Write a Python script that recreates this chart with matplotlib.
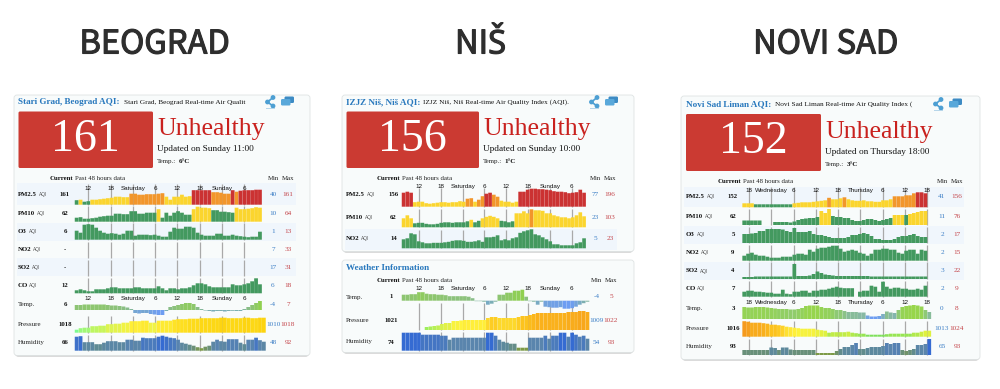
import numpy as np
import matplotlib
matplotlib.use("Agg")
import matplotlib.pyplot as plt
import matplotlib.patheffects as pe
from matplotlib.patches import FancyBboxPatch, Circle, Rectangle
from matplotlib.colors import LinearSegmentedColormap, Normalize

CITIES = ["BEOGRAD", "NIŠ", "NOVI SAD"]

# ---- Beograd readings (bar heights) ----
BG_PM25 = [4.5,5,3,3.5,5,5,5.5,6,6.5,7,8,8,7.5,7.5,11,11,10,10,10.5,10.5,10.5,11,11.5,8,5,8,8,10,8,8.5,14.5,14.5,14.5,14.5,14.5,12.5,12.5,12,11,11,14.5,13,14,14.5,14.5,14.5,15,15]
BG_PM25_C = "gygg"+"y"*10+"o"*9+"y"*7+"r"*5+"o"*5+"r"+"o"+"r"*6
BG_PM10 = [4,4.5,3,3,3.5,4,5,5.5,6,6,8,8,7.5,7.5,10.5,10.5,8,8,9,9,9,12.5,4,9,6,9,10.5,9,7,7,12.5,15,14,14,13.5,11.5,11.5,10,10,9.5,9,14,12.5,12.5,13,13.5,14.5,14]
BG_PM10_C = "g"*21+"y"+"g"*8+"y"*5+"g"*6+"y"*7
BG_O3 = [9,7,15,15.5,15,12,9,7,6,6.5,6,5,6,9,9,4,5,5,5,4.5,5,4,3,3,8,12,11,11,13,13,12,7,5,4,4,4,6,6,4,4,5,4,3.5,3,2.5,3,3,8]
BG_CO = [3,4,3,2,2,4,4,4,5,6,6,5,5,5,5,6,6,5,5,5,5,7,5,3,5,5,4,5,5,6,8,10,10,9,7,6,6,6,6,6,9,8,8,9,10,12,15,9]
BG_TEMP = [5,5,5.5,5.5,5.5,5.5,5.5,5.5,5,4.5,4.5,4,3.5,2.5,1,-3,-3.5,-3,-3,-4,-4.5,-5,-5,-1,3,4,5,6,7,7,6,3,1,-0.5,-1,-1.5,-1,-1,-1.5,-1,-0.8,-1,-1,1,3,5,7,9]
BG_PRES = [3,4.5,5,5,6.5,6.5,7,7,8.5,8.5,9,9,10,10,11.5,11.5,11.5,12,12,10,10,12,12,12,12,13,13.5,13.5,13.5,14,14,14,14.5,14.5,14.5,14.5,14.5,15,15,14.5,14.5,14.5,14.5,15,15,14.5,14.5,15,15]
BG_HUM = [14,14.5,8.5,8.5,8.5,6.5,6.5,8,9.5,9.5,9.5,8.5,8.5,11,11,10,10,13,12.5,12.5,12.5,14,15,14,13,12.5,11,8,7,6,5,3.5,2.5,4,5,9,11,9.5,9,11.5,11.5,11.5,8,6.5,11,11,13,10.5,9]

# ---- Niš readings ----
NI_PM25 = [14,15,14,4.5,5,5,3.5,3,3.5,4,4.5,4.5,4,4.5,4.5,5.5,5,8,8.5,5,7,10.5,13,14,12,10,6,5,5,4,5,15,15,17,18,18,17.5,17.5,17,16.5,15.5,15,15,14.5,13.5,14,14.5,17,14]
NI_PM25_C = "rrr"+"y"*14+"oo"+"y"+"oo"+"rr"+"oo"+"y"*5+"r"*18
NI_PM10 = [9,12,9,4,4.5,4.5,3.5,3,3,3.5,4.5,5,5,4.5,5,5,5,6,7.5,5,6.5,9,10.5,11.5,10.5,9,6.5,6,5,6,14,14,16,14,18,17,17,16.5,14,14,12,11,10,10,9,10,12,15,11]
NI_PM10_C = "y"*3+"g"*15+"y"+"gg"+"y"*5+"g"*4+"y"*4+"o"+"y"*14
NI_NO2 = [9,10,15,14,7,6,5,5,5.5,5.5,5.5,6,6.5,7.5,8,8,7.5,6.5,6.5,7,8,6.5,11,11,11.5,13,8,9,8,10,11,15.5,17,18,19,14,13,11,9,7,4,4,3,3,3,3,5,6,10]
NI_TEMP = [6,6,6.5,6.5,8.5,8.5,7,6.5,6.5,6,6,5.5,4.5,4.5,4.5,4.5,4.5,4,2.5,-0.5,-0.5,-1,-4,-3,-1,6,6,8,8,10,10,11,4,-0.5,-1,-4,-1,-6,-6.5,-7,-7,-6.5,-8,-8,-7.5,-6,-4,-2.5,-1]
NI_PRES = [0,0,0,0,0,0,3,3.5,4,4.5,6,7,7,9,9,9.5,10,10,10,10,10,10,12,13,13,12,12,12,12,12,13,14,14,15,16,17,17,17,17,17,17,17,17,18,18,18,19,19,18]
NI_HUM = [18,18,18,18,18,16,16,16,16,16,15,15,11,13,13,13,13,13,13,13,13,13,18,18,15,11,9,8,7,7,3,3,3,13,13,13,13,15,12,15,15,18,18,14,18,16,14,15,12]

# ---- Novi Sad readings ----
NS_PM25 = [4,4,4,3,3,3,3,3,3,3,3,3,3,4,4.5,5,5,5,5.5,6,6.5,7,9.5,8,8,9,10,8,7,6.5,6.5,7,6,6,5.5,5.5,7,7,8,11,11,11,12,12,14,15,15,14]
NS_PM25_C = "yyy"+"g"*10+"y"*9+"o"+"y"*3+"o"+"y"*12+"o"*6+"r"*3
NS_PM10 = [4.5,4.5,4.5,4.5,4.5,0,0,0,3,3,3,3,2.5,3.5,5,6,6.5,7,7,8,14,12,16,9,8,8,7,7,5,4,4,5,6,6,5,4,5,6,7,10,10,10,10,11,12,13,14,14]
NS_PM10_C = "g"*20+"yyy"+"g"*16+"yyy"+"g"+"y"*5
NS_O3 = [9,9,9.5,10,12,12,14,14,14,14,13.5,12,11,15,11,11,11,12,9,8,8,7,6,5,5,5,5,6,8,8,9,10,9,7,4,4,3,3,3,4,6,7,7,8,9,7,6,6]
NS_NO2 = [5,7,8,6,5,5,4,3,3,3,4,4,4,6,7,7,6,11,9,12,13,13,14,15,15,12,9,10,11,10,8,7,5,7,11,11,12,12,11,11,8,7,10,11,11,7,11,10]
NS_SO2 = [2,2,2,2.5,2.5,2.5,2.5,2.5,2.5,2.5,2.5,2.5,2.5,15,3,3,3,3.5,5,7.5,6,4.5,4,3.5,3,3,3,3,3,3,3,3,3,2.5,2.5,2.5,2.5,2.5,2.5,2.5,2.5,2.5,2.5,2.5,2.5,2.5,2.5,2.5]
NS_CO = [5,6,6,5,5,4.5,4,4,3,3,7,3,2.5,5,5,6,6,4,6,6,7,7,8,9,10,9,8.5,8.5,8.5,0,5,6,6,11,10,5,15,10,8,9,9,8,8,7,7,8,7,11]
NS_TEMP = [12,11.5,11.5,12,12,12,11.5,11,10.5,10,10,10,9.5,9.5,10,11,13,13.5,13.5,13.5,12,11,11,10,9,9,8,7,7,7,6.5,6.5,3.5,2.5,2.5,3,5,7.5,6.5,6,9,12,13,13.5,14,13.5,12.5,9,7]
NS_PRES = [15.5,15,14,14,14,13.5,13,12,12,11.5,11,10,9.5,9,8.5,8,8,8,8,7,6.5,6,4,4.5,4.5,4.5,4.5,5,4,3.5,3,3,2,2,2,2,2,2.5,3,3,3,3,3,3,4,4,5,6,6]
NS_HUM = [5,5,5,5,5,5,5,7.5,7,5,7.5,7.5,5.5,5,5,5,5,5,5,2,2,2,2,2,4,6,8,8,10,12,6,6,7,8,8,8,9,12,11,12,12,5,4,5,6,10,10,11,16]

BG_TICKS = ["12","18","Saturday","6","12","18","Sunday","6"]
NS_TICKS = ["18","Wednesday","6","12","18","Thursday","6","12","18"]

BAR_COL = {"g":"#43995f","y":"#fbd52e","o":"#f2962b","r":"#cb3232"}
PRES_A = ["#7dfb90","#c8f55a","#fff23c","#fdd410"]
PRES_B = ["#55ee70","#c8f050","#fff33c","#fcc01c","#f8a71c"]
PRES_C = ["#7ee05a","#d8f040","#fff33c","#fcc01c","#f59a1e"]
HUM_CM = ["#7d9a46","#5e8a98","#5a85ad","#356bd2"]
TEMP_A = ["#6d9df2","#7fb2a6","#8cc27a","#90d050"]
TEMP_C = ["#6d9df2","#86b8a6","#92d060","#98d64a"]

SERIF = "Liberation Serif"
SANS = "Liberation Sans"
BLUE = "#2878bd"
RED_T = "#c9211e"

fig = plt.figure(figsize=(10, 3.89), dpi=100)
ax = fig.add_axes([0, 0, 1, 1])
ax.set_xlim(0, 1000)
ax.set_ylim(389, 0)
ax.axis("off")


def T(x, y, s, size=5, c="#111111", ha="left", w="normal", fam=SERIF):
    return ax.text(x, y, s, fontsize=size, color=c, ha=ha, va="center", fontweight=w, family=fam, zorder=6)


def panel(x0, y0, x1, y1):
    ax.add_patch(FancyBboxPatch((x0 + 1, y0 + 1.5), x1 - x0 - 2, y1 - y0 - 1,
                                boxstyle="round,pad=0,rounding_size=3", fc="#b9b9b9", ec="none", zorder=1))
    ax.add_patch(FancyBboxPatch((x0, y0), x1 - x0, y1 - y0 - 0.5,
                                boxstyle="round,pad=0,rounding_size=3", fc="#f8fbfb", ec="#dfe3e3", lw=0.6, zorder=1.1))


def icons(x, y):
    c = "#4d9fd3"
    pts = [(x + 7, y), (x + 1.5, y + 4.5), (x + 7, y + 8.5)]
    ax.plot(*zip(*pts), color=c, lw=1.2, zorder=5)
    for p in pts:
        ax.add_patch(Circle(p, 1.7, color=c, zorder=5))
    ax.plot([x, x + 8], [y + 10.5, y + 10.5], color="#b5d5ea", lw=0.7, zorder=5)
    for dx, dy, col in ((18.5, -1, "#3d8bc4"), (15, 1.5, "#59a8da")):
        ax.add_patch(FancyBboxPatch((x + dx, y + dy), 9.5, 6.5, boxstyle="round,pad=0,rounding_size=1.3",
                                    fc=col, ec="none", zorder=5))


def header(px, title, title_w, sub, aqi, upd, temp, box, base_y, past_x, minx, maxx, info_x):
    T(px, base_y, title, 6.55, BLUE, w="bold")
    T(px + title_w, base_y, sub, 5.2, "#111111")
    x0, x1, y0, y1 = box
    ax.add_patch(FancyBboxPatch((x0, y0), x1 - x0, y1 - y0, boxstyle="round,pad=0,rounding_size=1.5",
                                fc="#cb3a32", ec="none", zorder=2))
    T((x0 + x1) / 2, (y0 + y1) / 2 - 0.5, aqi, 33, "white", ha="center")
    T(info_x, y0 + 18, "Unhealthy", 18.5, RED_T)
    T(info_x, y0 + 37.5, upd, 6.7)
    T(info_x, y0 + 50, "Temp.:", 5, "#222222")
    T(info_x + 21.5, y0 + 50, temp, 5, "#111111", w="bold")
    head_y = y0 + 67
    T(past_x - 1.5, head_y, "Current", 4.9, ha="right", w="bold")
    T(past_x, head_y, "Past 48 hours data", 4.9, "#222222")
    T(minx, head_y, "Min", 4.9, "#222222", ha="center")
    T(maxx, head_y, "Max", 4.9, "#222222", ha="center")


def bar_colors(vals, codes=None, stops=None):
    if codes is not None:
        return [BAR_COL[k] for k in codes]
    cm = LinearSegmentedColormap.from_list("s", stops)
    a = np.asarray(vals, float)
    return [cm(v) for v in Normalize(a.min(), a.max())(a)]


AQI_OFF = {"PM2.5": 20.5, "PM10": 19, "O3": 10.5, "NO2": 15, "SO2": 14, "CO": 11}


def row(px, label, cur, lo, hi, ly, base, xb, pitch, vals, xt, cols, curx, minx, maxx, top=None, band=None):
    if band:
        ax.add_patch(Rectangle((band[0], ly - band[2]), band[1] - band[0], band[3], fc="#f0f6fc", ec="none", zorder=1.5))
    if label in AQI_OFF:
        T(px, ly, label, 4.9, w="bold")
        T(px + AQI_OFF[label], ly, "AQI", 3.5, "#555555", fam=SANS)
    else:
        T(px, ly, label, 5, "#222222")
    T(curx, ly, cur, 4.9, ha="center", w="bold")
    T(minx, ly, lo, 5.2, "#3d7fc6", ha="center")
    T(maxx, ly, hi, 5.2, "#c4454a", ha="center")
    if top is not None:
        ax.vlines(xt, top, base, color="#a9a9a9", lw=0.9, zorder=2)
    if vals is not None:
        xs = xb + pitch * (np.arange(len(vals)) + 0.5)
        bars = ax.bar(xs, -np.asarray(vals, float), bottom=base, width=pitch * 0.97, color=cols, zorder=3)
        for b in bars:
            b.set_snap(False)


def ticks(xt, labels, y):
    for x, s in zip(xt, labels):
        T(x, y, s, 4.5, "#111111", ha="center", fam=SANS)


# Headings
HEAD_FONT = ["Noto Sans CJK KR", "Noto Sans"]
for hx, name in zip((154.5, 480.5, 825.5), CITIES):
    h = T(hx, 44.5, name, 23.5, "#2e2e2e", ha="center", fam=HEAD_FONT)
    h.set_path_effects([pe.withStroke(linewidth=0.8, foreground="#2e2e2e")])

# ---------- Beograd ----------
panel(14, 95, 310, 356)
icons(266, 97.5)
header(18, "Stari Grad, Beograd AQI:", 106, "Stari Grad, Beograd Real-time Air Qualit", "161",
       "Updated on Sunday 11:00", "6°C", (18.5, 153, 111.5, 168), 102, 75, 273, 288, 157)
xt = np.array([88.3, 110.7, 132.7, 155, 177.3, 199.7, 222, 244.3])
xb, p = 74.7, 3.9
band = (17, 296, 11, 22)
k = dict(xb=xb, pitch=p, xt=xt, curx=65, minx=273, maxx=288)
row(18, "PM2.5", "161", "40", "161", 194, 204.7, vals=BG_PM25, cols=bar_colors(BG_PM25, BG_PM25_C), top=184, band=band, **k)
row(18, "PM10", "62", "10", "64", 213.7, 221.7, vals=BG_PM10, cols=bar_colors(BG_PM10, BG_PM10_C), top=206, **k)
row(18, "O3", "6", "1", "13", 231.7, 239.7, vals=BG_O3, cols=bar_colors(BG_O3, "g" * 48), top=223, band=(17, 296, 9, 18), **k)
row(18, "NO2", "-", "7", "33", 249.3, 258, vals=None, cols=None, top=242, **k)
row(18, "SO2", "-", "17", "31", 267.3, 276, vals=None, cols=None, top=260, band=(17, 296, 9, 18), **k)
row(18, "CO", "12", "6", "18", 285.3, 293.3, vals=BG_CO, cols=bar_colors(BG_CO, "g" * 48), top=278, **k)
row(18, "Temp.", "6", "-4", "7", 304.7, 310, vals=BG_TEMP, cols=bar_colors(BG_TEMP, stops=TEMP_A), **k)
row(18, "Pressure", "1018", "1010", "1018", 324.7, 332.7, vals=BG_PRES, cols=bar_colors(BG_PRES, stops=PRES_A), top=316, **k)
row(18, "Humidity", "66", "48", "92", 342.7, 350.7, vals=BG_HUM, cols=bar_colors(BG_HUM, stops=HUM_CM), top=335, **k)
ticks(xt, BG_TICKS, 188)
ticks(xt, BG_TICKS, 298.5)

# ---------- Niš ----------
panel(342, 95, 634, 252)
icons(590, 97.5)
header(346, "IZJZ Niš, Niš AQI:", 77, "IZJZ Niš, Niš Real-time Air Quality Index (AQI).", "156",
       "Updated on Sunday 10:00", "1°C", (346.5, 479, 111.5, 168), 102, 402, 595, 610, 483)
xt2 = np.array([418.7, 440.7, 462.7, 484.3, 506.3, 528, 550, 571.7])
k = dict(xb=401.7, pitch=3.76, xt=xt2, curx=393.5, minx=595, maxx=610)
row(346, "PM2.5", "156", "77", "196", 194.5, 206.7, vals=NI_PM25, cols=bar_colors(NI_PM25, NI_PM25_C), top=188, **k)
row(346, "PM10", "62", "23", "103", 217.5, 227.3, vals=NI_PM10, cols=bar_colors(NI_PM10, NI_PM10_C), top=209, **k)
row(346, "NO2", "14", "5", "23", 238.5, 248.3, vals=NI_NO2, cols=bar_colors(NI_NO2, "g" * 49), top=230, band=(345, 617, 10, 21), **k)
ticks(xt2, BG_TICKS, 186.3)

panel(342, 260, 634, 353)
T(346, 268, "Weather Information", 6.55, BLUE, w="bold")
T(400.5, 280, "Current", 4.9, ha="right", w="bold")
T(402, 280, "Past 48 hours data", 4.9, "#222222")
T(596.7, 280, "Min", 4.9, "#222222", ha="center")
T(611, 280, "Max", 4.9, "#222222", ha="center")
k = dict(xb=401.7, pitch=3.83, xt=xt2, curx=391, minx=596.5, maxx=611)
row(346, "Temp.", "1", "-4", "5", 297, 300.7, vals=NI_TEMP, cols=bar_colors(NI_TEMP, stops=TEMP_A), **k)
row(346, "Pressure", "1021", "1009", "1022", 320, 330, vals=NI_PRES, cols=bar_colors(NI_PRES, stops=PRES_B), top=303, **k)
row(346, "Humidity", "74", "54", "93", 342, 350.7, vals=NI_HUM, cols=bar_colors(NI_HUM, stops=HUM_CM), top=332, **k)
ticks(xt2, BG_TICKS, 288.5)

# ---------- Novi Sad ----------
panel(681, 96, 980, 360)
icons(934, 99.5)
header(686, "Novi Sad Liman AQI:", 89, "Novi Sad Liman Real-time Air Quality Index (", "152",
       "Updated on Thursday 18:00", "3°C", (686, 821, 114, 171), 104, 743, 942, 957, 825)
xt3 = np.array([748.7, 771.3, 793.7, 816, 838, 860.3, 882.7, 905, 927.3])
k = dict(xb=742.3, pitch=3.855, xt=xt3, curx=733, minx=942, maxx=957)
band = (684, 964, 9.5, 20)
row(686, "PM2.5", "152", "41", "156", 196.5, 207.3, vals=NS_PM25, cols=bar_colors(NS_PM25, NS_PM25_C), top=187, band=band, **k)
row(686, "PM10", "62", "11", "76", 216, 225, vals=NS_PM10, cols=bar_colors(NS_PM10, NS_PM10_C), top=209, **k)
row(686, "O3", "5", "2", "17", 234.3, 243, vals=NS_O3, cols=bar_colors(NS_O3, "g" * 48), top=227, band=(684, 964, 8.5, 18), **k)
row(686, "NO2", "9", "2", "15", 252.3, 260.7, vals=NS_NO2, cols=bar_colors(NS_NO2, "g" * 48), top=245, **k)
row(686, "SO2", "4", "3", "22", 271, 279, vals=NS_SO2, cols=bar_colors(NS_SO2, "g" * 48), top=262, band=(684, 964, 9, 18), **k)
row(686, "CO", "7", "2", "9", 288.7, 296.7, vals=NS_CO, cols=bar_colors(NS_CO, "g" * 48), top=281, **k)
row(686, "Temp.", "3", "0", "8", 308.3, 319, vals=NS_TEMP, cols=bar_colors(NS_TEMP, stops=TEMP_C), **k)
row(686, "Pressure", "1016", "1013", "1024", 328.3, 336.7, vals=NS_PRES, cols=bar_colors(NS_PRES, stops=PRES_C), top=321, **k)
row(686, "Humidity", "93", "65", "93", 346.7, 355, vals=NS_HUM, cols=bar_colors(NS_HUM, stops=HUM_CM), top=339, **k)
ticks(xt3, NS_TICKS, 190)
ticks(xt3, NS_TICKS, 302.3)

fig.savefig("out.png", dpi=100, facecolor="white")
